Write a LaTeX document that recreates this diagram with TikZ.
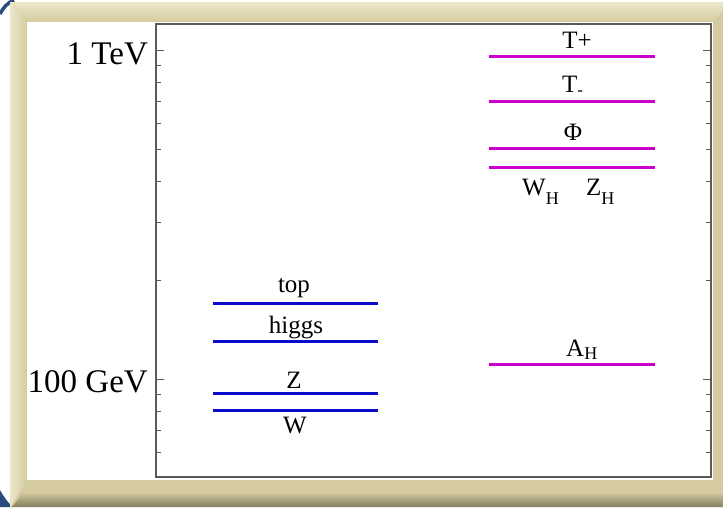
\documentclass[tikz,border=0pt]{standalone}
\usepackage{fontspec}
\setmainfont{Liberation Serif}
\definecolor{framebase}{HTML}{D4CBA0}
\definecolor{framelight}{HTML}{EDE7CA}
\definecolor{framedark}{HTML}{857E5E}
\definecolor{cornerblue}{HTML}{2B4C7E}
\definecolor{lvlblue}{HTML}{0A0AC8}
\definecolor{lvlmag}{HTML}{CC00CC}
\definecolor{axisgray}{HTML}{5A5A5A}
\newcommand\subWH[1]{\raisebox{-9pt}{\fontsize{18}{18}\selectfont #1}}
\newcommand\subAH[1]{\raisebox{-3pt}{\fontsize{18}{18}\selectfont #1}}
\begin{document}
\begin{tikzpicture}[x=1pt,y=-1pt,
  lbl/.style={font=\fontsize{25}{29}\selectfont, inner sep=0pt},
  axlbl/.style={font=\fontsize{33}{38}\selectfont, inner sep=0pt},
  bluelvl/.style={draw=lvlblue, line width=3pt},
  maglvl/.style={draw=lvlmag, line width=3pt},
  majtick/.style={draw=axisgray, line width=1pt},
  mintick/.style={draw=axisgray, line width=0.9pt}]
\useasboundingbox (0,0) rectangle (723,507);
\fill[white] (0,0) rectangle (723,507);
% blue background corners
\draw[cornerblue, line width=3.5pt] (0,14) .. controls (3,8) and (7,3) .. (14,0);
\fill[cornerblue] (0,490) .. controls (4,497) and (8,503) .. (13,507) -- (0,507) -- cycle;
% frame
\fill[framebase] (10,2) rectangle (730,507);
\shade[top color=framelight, bottom color=framebase] (10,2) -- (730,2) -- (713,22) -- (27,22) -- cycle;
\shade[left color=framelight, right color=framebase] (10,2) -- (27,22) -- (27,480) -- (10,507) -- cycle;
\shade[top color=framebase, bottom color=framedark] (12,507) -- (24,492) -- (730,492) -- (730,507) -- cycle;
\fill[white] (27,22) rectangle (713,480);
% plot box
\draw[axisgray, line width=1.3pt] (156,24) rectangle (711,477);
\coordinate (axL) at (156,0);
\coordinate (axR) at (711,0);
\foreach \yy in {50,379} {
  \draw[majtick] (axL |- 0,\yy) -- ++(8,0);
  \draw[majtick] (axR |- 0,\yy) -- ++(-8,0);
}
\foreach \yy in {65,82,101,123,149,181,222,280,394,411,430,452} {
  \draw[mintick] (axL |- 0,\yy) -- ++(5,0);
  \draw[mintick] (axR |- 0,\yy) -- ++(-5,0);
}
\node[axlbl, anchor=base east] (tev) at (148,64) {1 TeV};
\node[axlbl, anchor=base east] (gev) at (148,392) {100 GeV};
% SM levels
\draw[bluelvl] (213,303) -- (378,303);
\draw[bluelvl] (213,341) -- (378,341);
\draw[bluelvl] (213,393) -- (378,393);
\draw[bluelvl] (213,410) -- (378,410);
\node[lbl, anchor=base] (ltop) at (294,292) {top};
\node[lbl, anchor=base] (lhiggs) at (296,333) {higgs};
\node[lbl, anchor=base] (lZ) at (294,388) {Z};
\node[lbl, anchor=base] (lW) at (295,433) {W};
% heavy partners
\draw[maglvl] (489,56) -- (655,56);
\draw[maglvl] (489,101) -- (655,101);
\draw[maglvl] (489,148) -- (655,148);
\draw[maglvl] (489,167) -- (655,167);
\draw[maglvl] (489,364) -- (655,364);
\node[lbl, anchor=base] (lTp) at (577,48) {T+};
\node[lbl, anchor=base west] (lTm) at (562,92) {T\raisebox{-3pt}{\fontsize{17}{17}\selectfont -}};
\node[lbl, anchor=base] (lPhi) at (573,140) {Φ};
\node[lbl, anchor=base west] (lWH) at (522,195) {W\subWH{H}};
\node[lbl, anchor=base west] (lZH) at (586,195) {Z\subWH{H}};
\node[lbl, anchor=base west] (lAH) at (566,356) {A\subAH{H}};
\end{tikzpicture}
\end{document}
